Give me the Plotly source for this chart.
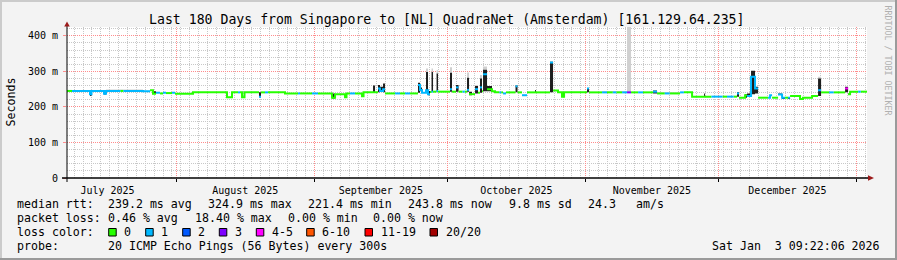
import plotly.graph_objects as go
import pandas as pd

W, H = 897, 260
L, R, T, B = 67, 867, 27, 178  # plot area in pixels

start = pd.Timestamp("2025-07-07 09:22:06")
end = pd.Timestamp("2026-01-03 09:22:06")

# ---- data (days since start, ms) ----
day = [0.00, 1.13, 5.18, 5.51, 8.33, 8.78, 12.00, 12.70, 17.10, 18.68,
       19.35, 20.03, 20.93, 21.60, 22.28, 23.63, 24.30, 28.35, 36.00, 37.13,
       38.48, 38.93, 39.38, 39.94, 43.20, 43.65, 44.55, 45.23, 49.05, 51.98,
       52.43, 55.13, 56.48, 59.63, 60.31, 62.56, 62.89, 63.68, 64.81, 66.38,
       66.72, 68.86, 69.31, 69.98, 70.43, 71.11, 71.56, 73.81, 74.93, 76.06,
       77.18, 78.98, 79.43, 79.88, 80.78, 81.23, 81.68, 82.02, 82.36, 83.15,
       83.48, 85.06, 85.51, 86.18, 86.63, 87.53, 88.10, 89.00, 89.50, 90.01,
       90.46, 91.13, 91.81, 92.48, 92.93, 93.38, 93.61, 94.51, 95.63, 96.31,
       97.30, 97.70, 98.11, 98.78, 100.92, 101.37, 102.38, 103.51, 105.31, 105.53,
       108.68, 109.36, 110.48, 111.38, 111.84, 117.01, 117.46, 120.39, 121.50, 122.80,
       123.60, 124.90, 126.01, 126.91, 128.50, 129.60, 131.86, 132.76, 134.50, 135.60,
       137.94, 138.80, 140.64, 143.34, 143.56, 145.00, 147.50, 148.50, 150.00, 150.76,
       151.21, 152.56, 153.01, 153.91, 154.81, 155.49, 157.74, 158.19, 158.64, 159.99,
       160.89, 161.56, 162.24, 162.69, 164.94, 165.61, 167.64, 168.99, 169.67, 171.50,
       172.50, 175.07, 175.74, 176.19, 178.00, 178.60]

rtt = [245, 245, 236, 245, 237, 245, 245, 245, 244, 247,
       237, 240, 238, 240, 239, 240, 237, 241, 227, 241,
       241, 241, 227, 241, 229, 241, 241, 241, 238, 238,
       238, 238, 238, 226, 236, 227, 238, 238, 238, 230,
       241, 241, 241, 252, 245, 250, 238, 238, 238, 238,
       238, 262, 248, 240, 247, 236, 242, 243, 243, 245,
       243, 243, 243, 250, 243, 255, 243, 243, 243, 248,
       236, 236, 250, 240, 255, 244, 292, 250, 244, 241,
       241, 241, 238, 241, 258, 241, 233, 241, 241, 241,
       325, 246, 241, 229, 241, 252, 241, 241, 241, 241,
       241, 241, 241, 241, 241, 241, 243, 238, 238, 238,
       241, 241, 229, 229, 229, 229, 229, 229, 229, 238,
       226, 233, 231, 285, 252, 226, 226, 233, 226, 235,
       226, 226, 226, 231, 222, 226, 231, 247, 241, 241,
       241, 252, 236, 243, 243, 243]

loss = [0, 1, 1, 1, 1, 1, 0, 1, 1, 0,
        0, 1, 0, 1, 0, 1, 0, 0, 0, 0,
        1, 0, 0, 0, 1, 0, 1, 0, 0, 1,
        0, 1, 0, 0, 0, 0, 0, 1, 0, 0,
        0, 0, 0, 1, 1, 1, 0, 1, 0, 1,
        0, 1, 1, 1, 1, 1, 0, 1, 0, 1,
        0, 0, 0, 1, 0, 1, 0, 1, 0, 1,
        0, 0, 1, 0, 1, 0, 1, 0, 0, 0,
        1, 0, 1, 0, 1, 0, 1, 0, 0, 0,
        1, 0, 0, 0, 0, 1, 0, 1, 0, 1,
        0, 1, 3, 0, 1, 0, 1, 0, 1, 0,
        1, 0, 0, 0, 0, 1, 0, 1, 0, 1,
        0, 0, 1, 1, 1, 0, 1, 1, 0, 1,
        1, 0, 1, 0, 0, 0, 0, 1, 0, 1,
        0, 4, 0, 0, 1, 0]

N = None
smoke_lo = [N, N, 231, N, 235, N, N, N, N, N,
            N, N, N, N, N, N, N, N, N, N,
            N, N, N, N, 227, N, N, N, N, N,
            N, N, N, 224, N, N, N, N, N, N,
            N, N, N, 241, N, 241, N, N, N, N,
            N, 240, N, N, 243, 233, N, 242, N, 243,
            N, N, N, 243, N, 243, N, N, N, 243,
            233, N, 238, N, 240, N, 244, 244, N, N,
            N, N, N, N, 241, N, N, N, N, N,
            241, N, N, N, N, 241, N, N, N, N,
            N, N, N, N, N, N, 238, N, N, N,
            N, N, N, N, N, N, N, N, N, 229,
            N, 226, N, 236, 238, N, N, N, N, N,
            222, N, 222, N, N, N, N, 231, N, N,
            N, 241, N, N, N, N]

smoke_hi = [N, N, 245, N, 245, N, N, N, N, N,
            244, N, N, N, N, N, N, N, N, N,
            N, N, N, N, 241, N, N, N, N, N,
            N, N, N, 238, N, 236, N, N, N, 238,
            N, 260, N, 262, 257, 266, N, N, N, N,
            N, 268, 255, N, 298, 245, N, 298, N, 294,
            N, N, N, 296, N, 262, N, N, N, 282,
            243, N, 259, N, 280, N, 305, 259, N, N,
            N, N, N, N, 260, N, N, N, 248, N,
            327, N, N, 241, N, 252, N, N, N, N,
            N, N, N, N, N, N, 246, N, N, N,
            N, N, N, 238, N, N, N, N, N, 241,
            N, 236, 238, 302, 257, N, N, N, N, 238,
            N, N, N, N, N, N, N, 280, N, N,
            N, 257, 238, N, N, N]

smoke_top = [N, N, N, N, N, 249, 249, 249, N, N,
             N, N, N, N, N, N, N, N, N, N,
             N, N, N, N, N, N, N, N, N, N,
             N, N, N, N, N, N, N, N, N, N,
             N, N, N, N, N, N, N, N, N, N,
             N, N, N, N, 308, N, N, 308, N, 303,
             N, N, N, 312, N, N, N, N, N, 297,
             N, N, 262, N, 290, N, 314, N, N, N,
             N, N, N, N, N, N, N, N, N, N,
             N, N, N, N, N, N, N, 244, 244, 244,
             244, 244, 450, N, N, N, N, 241, 241, 241,
             N, N, N, N, N, N, N, N, N, N,
             N, N, N, N, N, N, N, N, N, N,
             N, N, N, N, N, N, N, 285, N, N,
             N, N, N, N, N, N]

loss_labels = ["0", "1", "2", "3", "4-5", "6-10", "11-19", "20/20"]
loss_colors = ["#26ff00", "#00b8ff", "#0059ff", "#7e00ff",
               "#ff00ff", "#ff5500", "#ff0000", "#a10000"]

y_ticks = [0, 100, 200, 300, 400]
y_ticktext = ["0", "100 m", "200 m", "300 m", "400 m"]

title = "Last 180 Days from Singapore to [NL] QuadraNet (Amsterdam) [161.129.64.235]"
rtt_stats = ["239.2 ms avg", "324.9 ms max", "221.4 ms min", "243.8 ms now",
             "9.8 ms sd", "24.3", "am/s"]
loss_stats = ["0.46 % avg", "18.40 % max", "0.00 % min", "0.00 % now"]
probe_text = "20 ICMP Echo Pings (56 Bytes) every 300s"
stamp = "Sat Jan  3 09:22:06 2026"

# ---- build traces ----
t = [start + pd.Timedelta(days=d) for d in day] + [end]


def ext(a):
    return list(a) + [a[-1]]


lo = [a if a is not None else r for a, r in zip(smoke_lo, rtt)]
hi = [a if a is not None else r for a, r in zip(smoke_hi, rtt)]
top = [max(a, h) if a is not None else h for a, h in zip(smoke_top, hi)]

fig = go.Figure()
common = dict(mode="lines", hoverinfo="skip", showlegend=False)
fig.add_trace(go.Scatter(x=t, y=ext(hi), line=dict(width=0, shape="hv"), **common))
fig.add_trace(go.Scatter(x=t, y=ext(top), line=dict(width=0, shape="hv"),
                         fill="tonexty", fillcolor="#d0d0d0", **common))
fig.add_trace(go.Scatter(x=t, y=ext(lo), line=dict(width=0, shape="hv"), **common))
fig.add_trace(go.Scatter(x=t, y=ext(hi), line=dict(width=0, shape="hv"),
                         fill="tonexty", fillcolor="#1e1e1e", **common))

n = len(rtt)
for c, col in enumerate(loss_colors):
    xs, ys = [], []
    i = 0
    while i < n:
        if loss[i] != c:
            i += 1
            continue
        j = i
        while j + 1 < n and loss[j + 1] == c:
            j += 1
        xs += t[i:j + 2] + [None]
        ys += rtt[i:j + 1] + [rtt[j], None]
        i = j + 1
    if xs:
        fig.add_trace(go.Scatter(x=xs, y=ys, line=dict(color=col, width=2, shape="hv"),
                                 connectgaps=False, **common))


def PX(x):
    return (x - L) / (R - L)


def PY(y):
    return (B - y) / (B - T)


MONO = "DejaVu Sans Mono"
DOTS = "1px,1px"

fig.update_layout(
    width=W, height=H,
    margin=dict(l=L, r=W - R, t=T, b=H - B, pad=0),
    paper_bgcolor="#f3f3f3", plot_bgcolor="#ffffff",
    showlegend=False,
    font=dict(family=MONO, size=10, color="#000000"),
    xaxis=dict(
        type="date", range=[start, end], tickmode="linear",
        tick0="2025-07-01", dtick="M1", ticklabelmode="period",
        tickformat="%B %Y", tickfont=dict(family=MONO, size=10, color="#000"),
        showgrid=True, gridcolor="#ff8c8c", griddash=DOTS, gridwidth=1,
        ticks="outside", ticklen=3, tickcolor="#000000",
        showline=False, zeroline=False,
        minor=dict(tick0="2025-07-01", dtick=172800000, showgrid=True,
                   gridcolor="#c8c8c8", griddash=DOTS, gridwidth=1, ticks=""),
        fixedrange=True,
    ),
    yaxis=dict(
        range=[0, 425], tickmode="array", tickvals=y_ticks, ticktext=y_ticktext,
        tickfont=dict(family=MONO, size=10, color="#000"),
        showgrid=True, gridcolor="#ff8c8c", griddash=DOTS, gridwidth=1,
        ticks="outside", ticklen=3, tickcolor="#ff8c8c", ticklabelstandoff=3,
        showline=False, zeroline=False,
        minor=dict(tickmode="linear", tick0=0, dtick=20, showgrid=True,
                   gridcolor="#c8c8c8", griddash=DOTS, gridwidth=1, ticks=""),
        fixedrange=True,
    ),
)

shapes = []
# frame shading
shapes.append(dict(type="rect", xref="paper", yref="paper", x0=PX(0), x1=PX(W), y0=PY(0), y1=PY(2),
                   fillcolor="#cbcbcb", line=dict(width=0), layer="below"))
shapes.append(dict(type="rect", xref="paper", yref="paper", x0=PX(0), x1=PX(2), y0=PY(0), y1=PY(H),
                   fillcolor="#cbcbcb", line=dict(width=0), layer="below"))
shapes.append(dict(type="rect", xref="paper", yref="paper", x0=PX(0), x1=PX(W), y0=PY(H - 2), y1=PY(H),
                   fillcolor="#9a9a9a", line=dict(width=0), layer="below"))
shapes.append(dict(type="rect", xref="paper", yref="paper", x0=PX(W - 2), x1=PX(W), y0=PY(0), y1=PY(H),
                   fillcolor="#9a9a9a", line=dict(width=0), layer="below"))
# axis lines
shapes.append(dict(type="line", xref="paper", yref="paper", x0=PX(62), x1=PX(869), y0=PY(178), y1=PY(178),
                   line=dict(color="#000000", width=1.5)))
shapes.append(dict(type="line", xref="paper", yref="paper", x0=PX(67), x1=PX(67), y0=PY(182), y1=PY(25),
                   line=dict(color="#000000", width=1)))
# arrows
shapes.append(dict(type="path", xref="paper", yref="paper",
                   path=f"M {PX(64.2)} {PY(26.5)} L {PX(69.8)} {PY(26.5)} L {PX(67)} {PY(21.5)} Z",
                   fillcolor="#9c1b1b", line=dict(width=0)))
shapes.append(dict(type="path", xref="paper", yref="paper",
                   path=f"M {PX(868)} {PY(175.2)} L {PX(868)} {PY(180.8)} L {PX(874)} {PY(178)} Z",
                   fillcolor="#9c1b1b", line=dict(width=0)))

annotations = []


def text(x, y, s, size=11.6, anchor="left", color="#000000", angle=0):
    annotations.append(dict(xref="paper", yref="paper", x=PX(x), y=PY(y), text=s,
                            showarrow=False, xanchor=anchor, yanchor="middle",
                            textangle=angle, borderpad=0,
                            font=dict(family=MONO, size=size, color=color)))


text(446.5, 19.5, title, size=13.2, anchor="center")
text(10, 102.5, "Seconds", size=11.6, anchor="center", angle=-90)
text(887.5, 60, "RRDTOOL / TOBI OETIKER", size=8.3, anchor="center", color="#b0b0b0", angle=90)

row_y = [204.3, 218.3, 232.3, 246.2]
text(16, row_y[0], "median rtt:")
for xpos, s in zip([107.3, 207.3, 307.3, 407.3, 507.7, 586.7, 635.0], rtt_stats):
    text(xpos, row_y[0], s)
text(16, row_y[1], "packet loss:")
for xpos, s in zip([107.3, 194.0, 286.7, 372.3], loss_stats):
    text(xpos, row_y[1], s)
text(16, row_y[2], "loss color:")
box_x = [108.7, 145.7, 182.7, 219.3, 256.3, 306.7, 365.0, 430.0]
for bx, lab, col in zip(box_x, loss_labels, loss_colors):
    shapes.append(dict(type="rect", xref="paper", yref="paper",
                       x0=PX(bx), x1=PX(bx + 7.5), y0=PY(228.5), y1=PY(236),
                       fillcolor=col, line=dict(color="#000000", width=1)))
    text(bx + 14.5, row_y[2], lab)
text(16, row_y[3], "probe:")
text(107.3, row_y[3], probe_text)
text(880.5, row_y[3], stamp, anchor="right")

fig.update_layout(shapes=shapes, annotations=annotations)
fig.write_html("out.html")
